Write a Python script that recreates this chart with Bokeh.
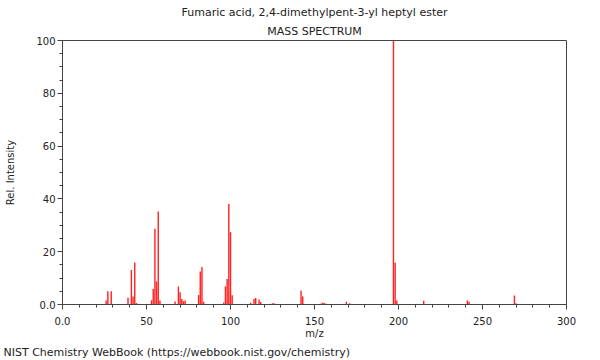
from bokeh.plotting import figure
from bokeh.models import FixedTicker, Title, Range1d
from bokeh.embed import file_html
from bokeh.resources import INLINE

# ---- data ----
mz = [26, 27, 29, 39, 41, 42, 43, 44, 53, 54, 55, 56, 57, 58, 67, 69, 70, 71, 72, 73,
      81, 82, 83, 84, 96, 97, 98, 99, 100, 101, 112, 114, 115, 117, 118, 125, 126,
      142, 143, 154, 155, 156, 169, 171, 197, 198, 199, 215, 241, 242, 269, 270]
intensity = [1.5, 5.0, 5.0, 2.6, 13.1, 3.0, 15.9, 0.6, 1.6, 5.9, 28.7, 8.7, 35.2, 1.5,
             1.1, 6.8, 4.6, 2.1, 1.2, 1.5,
             3.6, 12.5, 14.2, 1.0, 0.8, 6.9, 9.7, 38.1, 27.4, 3.5, 0.7, 2.1, 2.5, 1.9,
             0.9, 0.5, 0.5, 5.3, 3.0, 0.4, 0.8, 0.6, 1.0, 0.5, 100.0, 15.8, 1.5, 1.4,
             1.5, 1.0, 3.4, 0.5]
x_ticks = [0, 50, 100, 150, 200, 250, 300]
x_minor = list(range(0, 301, 10))
y_ticks = [0, 20, 40, 60, 80, 100]
y_minor = list(range(0, 101, 5))
title_main = "Fumaric acid, 2,4-dimethylpent-3-yl heptyl ester"
title_sub = "MASS SPECTRUM"
footer = "NIST Chemistry WebBook (https://webbook.nist.gov/chemistry)"

FONT = "DejaVu Sans"
TXT = "#222222"
AX = "#444444"

p = figure(width=600, height=360, output_backend="svg", toolbar_location=None,
           x_range=Range1d(0, 300), y_range=Range1d(0, 100),
           min_border_left=62, min_border_right=34, min_border_top=40,
           min_border_bottom=56, title=None)

p.segment(x0=mz, y0=[0] * len(mz), x1=mz, y1=intensity, line_color="#ff2020",
          line_width=1.4)

p.xgrid.visible = False
p.ygrid.visible = False
p.outline_line_color = AX

p.xaxis.ticker = FixedTicker(ticks=x_ticks, minor_ticks=x_minor)
p.yaxis.ticker = FixedTicker(ticks=y_ticks, minor_ticks=y_minor)
p.xaxis.major_label_overrides = {0: "0.0"}
p.yaxis.major_label_overrides = {0: "0.0"}
p.xaxis.axis_label = "m/z"
p.yaxis.axis_label = "Rel. Intensity"
for ax in (p.xaxis, p.yaxis):
    ax.axis_line_color = AX
    ax.major_tick_line_color = AX
    ax.minor_tick_line_color = AX
    ax.major_tick_out = 5
    ax.major_tick_in = 0
    ax.minor_tick_out = 3
    ax.minor_tick_in = 0
    ax.major_label_text_font = FONT
    ax.major_label_text_font_size = "10px"
    ax.major_label_text_color = TXT
    ax.axis_label_text_font = FONT
    ax.axis_label_text_font_size = "10px"
    ax.axis_label_text_font_style = "normal"
    ax.axis_label_text_color = TXT
p.xaxis.major_label_standoff = 7
p.xaxis.axis_label_standoff = 0
p.yaxis.major_label_standoff = 2
p.yaxis.axis_label_standoff = 17

p.add_layout(Title(text=title_sub, align="center", text_font=FONT, text_font_size="11px",
                   text_font_style="normal", text_color=TXT, standoff=5), "above")
p.add_layout(Title(text=title_main, align="center", text_font=FONT, text_font_size="11px",
                   text_font_style="normal", text_color=TXT, standoff=3), "above")
p.add_layout(Title(text=footer, align="left", offset=-59, text_font=FONT,
                   text_font_size="11px", text_font_style="normal", text_color=TXT,
                   standoff=4), "below")

open("out.html", "w").write(file_html(p, INLINE))
